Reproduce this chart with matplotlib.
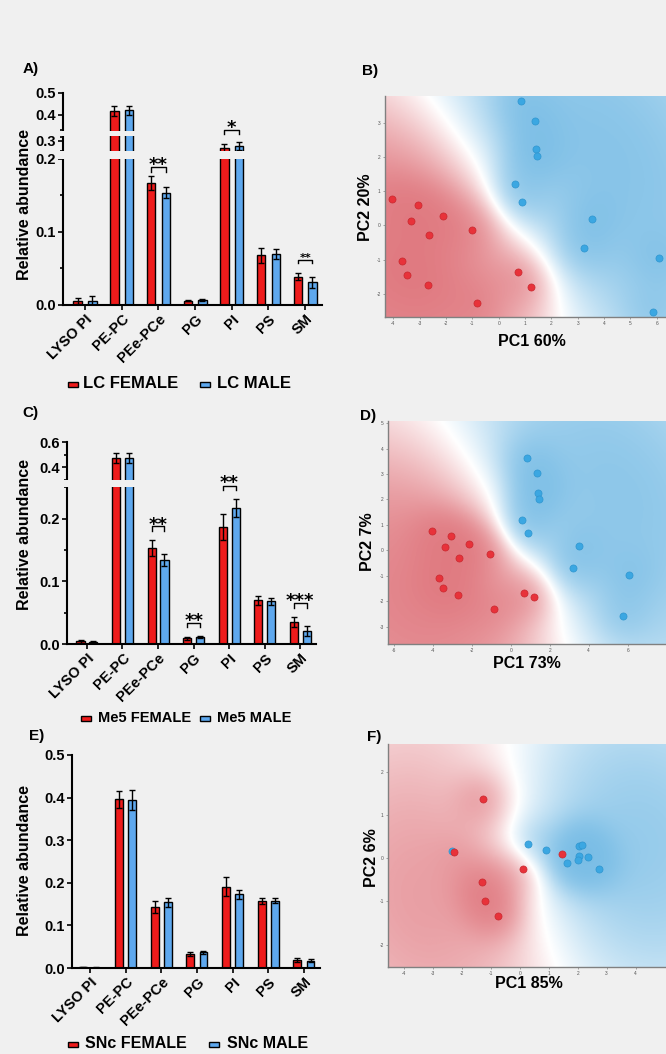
import numpy as np
import matplotlib.pyplot as plt
import matplotlib.transforms as mtransforms
from matplotlib.colors import LinearSegmentedColormap
from matplotlib.patches import Rectangle

plt.rcParams['font.family'] = ['Liberation Sans', 'DejaVu Sans']
plt.rcParams['axes.unicode_minus'] = False

W, H = 666, 1054
BG = '#f0f0f0'
RED = '#ee1b1b'
BLUE = '#5ea8ee'
CMAP = LinearSegmentedColormap.from_list('pca', ['#d23c46', '#ffffff', '#3c9fda'])

lipids = ['LYSO PI', 'PE-PC', 'PEe-PCe', 'PG', 'PI', 'PS', 'SM']

# LC
lc_f = [0.006, 0.417, 0.167, 0.006, 0.264, 0.068, 0.039]
lc_f_err = [0.004, 0.024, 0.010, 0.001, 0.020, 0.010, 0.005]
lc_m = [0.006, 0.420, 0.154, 0.007, 0.277, 0.070, 0.031]
lc_m_err = [0.006, 0.022, 0.007, 0.001, 0.020, 0.007, 0.008]

# Me5
me5_f = [0.004, 0.474, 0.153, 0.009, 0.187, 0.070, 0.035]
me5_f_err = [0.002, 0.040, 0.013, 0.002, 0.021, 0.007, 0.008]
me5_m = [0.003, 0.474, 0.134, 0.011, 0.217, 0.068, 0.021]
me5_m_err = [0.002, 0.040, 0.010, 0.002, 0.014, 0.005, 0.008]

# SNc
snc_f = [0.002, 0.396, 0.143, 0.033, 0.191, 0.158, 0.018]
snc_f_err = [0.001, 0.020, 0.015, 0.004, 0.022, 0.007, 0.005]
snc_m = [0.001, 0.394, 0.154, 0.037, 0.173, 0.158, 0.017]
snc_m_err = [0.001, 0.024, 0.011, 0.004, 0.011, 0.006, 0.004]

# significance: (category, bracket top, leg end, stars, star centre, size)
lc_sig = [(2, 0.1895, 0.1826, '**', 0.199, 13), (4, 0.33, 0.324, '*', 0.3635, 13),
          (6, 0.0616, 0.0571, '**', 0.0685, 8)]
me5_sig = [(2, 0.1888, 0.1797, '**', 0.198, 13), (3, 0.033, 0.0277, '**', 0.0453, 13),
           (4, 0.257, 0.2453, '**', 0.3136, 13), (6, 0.0651, 0.0571, '***', 0.0768, 13)]

# PCA scores
lc_pc1_f = [-4.04, -3.05, -3.33, -2.11, -2.65, -1.03, -3.68, -3.49, -2.70, 0.72, 1.24, -0.84]
lc_pc2_f = [0.76, 0.585, 0.14, 0.27, -0.27, -0.13, -1.05, -1.45, -1.74, -1.37, -1.79, -2.26]
lc_pc1_m = [0.84, 1.38, 1.42, 1.46, 0.62, 0.90, 3.53, 3.24, 6.10, 5.84]
lc_pc2_m = [3.64, 3.05, 2.24, 2.02, 1.22, 0.67, 0.185, -0.66, -0.96, -2.54]

me5_pc1_f = [-4.05, -3.06, -3.37, -2.15, -2.66, -1.05, -3.71, -3.50, -2.72, 0.67, 1.21, -0.87]
me5_pc2_f = [0.745, 0.575, 0.13, 0.26, -0.31, -0.14, -1.07, -1.46, -1.75, -1.66, -1.82, -2.29]
me5_pc1_m = [0.83, 1.36, 1.39, 1.43, 0.59, 0.88, 3.50, 3.21, 6.07, 5.78]
me5_pc2_m = [3.63, 3.03, 2.24, 2.00, 1.20, 0.67, 0.17, -0.68, -0.97, -2.58]

snc_pc1_f = [-1.28, -2.26, 0.10, -1.30, -1.20, -0.76, 1.46]
snc_pc2_f = [1.37, 0.15, -0.25, -0.55, -0.99, -1.33, 0.09]
snc_pc1_m = [-2.34, 0.28, 0.91, 1.64, 2.06, 2.15, 2.04, 2.00, 2.36, 2.72]
snc_pc2_m = [0.17, 0.32, 0.19, -0.12, 0.28, 0.30, 0.04, -0.04, 0.02, -0.25]

fig = plt.figure(figsize=(W / 100, H / 100), dpi=100, facecolor=BG)


def px_box(l, t, r, b):
    return [l / W, 1 - b / H, (r - l) / W, (b - t) / H]


def ftext(x, y, s, **kw):
    fig.text(x / W, 1 - y / H, s, **kw)


def bar_panel(rect, fem, fem_err, mal, mal_err, off, width, xlim, ylim,
              seg=None, gaps=(), major=(), minor=(), sig=()):
    ax = fig.add_axes(px_box(*rect))
    ax.set_facecolor('none')
    if seg is not None:
        v, h = np.array(seg[0]), np.array(seg[1])
        ax.set_yscale('function', functions=(lambda y: np.interp(y, v, h),
                                             lambda y: np.interp(y, h, v)))
    x = np.arange(len(lipids))
    ekw = dict(elinewidth=1, capthick=1)
    ax.bar(x - off, fem, width, yerr=fem_err, color=RED, edgecolor='black', lw=1,
           capsize=2.5, error_kw=ekw, zorder=2)
    ax.bar(x + off, mal, width, yerr=mal_err, color=BLUE, edgecolor='black', lw=1,
           capsize=2.5, error_kw=ekw, zorder=2)
    ax.set_xlim(*xlim)
    ax.set_ylim(*ylim)
    trans = mtransforms.blended_transform_factory(ax.transAxes, ax.transData)
    for g0, g1 in gaps:
        ax.add_patch(Rectangle((-0.02, g0 + 0.001), 1.02, g1 - g0 - 0.002, transform=trans,
                               facecolor=BG, edgecolor='none', clip_on=False, zorder=3))
    for i, top, leg, stars, sy, fs in sig:
        x0, x1 = i - off, i + off
        ax.plot([x0, x0, x1, x1], [leg, top, top, leg], color='black', lw=1, zorder=5,
                clip_on=False)
        ax.annotate(stars, xy=(i, sy), xytext=(0, -0.58 * fs), textcoords='offset points',
                    ha='center', va='baseline', fontsize=fs, fontweight='bold',
                    family='DejaVu Sans', zorder=5, annotation_clip=False)
    ax.set_yticks(major)
    ax.set_yticklabels([f'{m:.1f}' for m in major])
    ax.set_yticks(minor, minor=True)
    ax.set_xticks(x)
    ax.set_xticklabels(lipids, rotation=45, ha='right', rotation_mode='anchor')
    for s in ['top', 'right']:
        ax.spines[s].set_visible(False)
    for s in ['left', 'bottom']:
        ax.spines[s].set_linewidth(1.5)
    ax.tick_params(axis='both', which='major', direction='out', length=3.5, width=1.2,
                   labelsize=10.5, pad=1.5)
    ax.tick_params(axis='y', which='minor', direction='out', length=2.5, width=1.2)
    for lab in ax.get_xticklabels() + ax.get_yticklabels():
        lab.set_fontweight('bold')
    return ax


def pca_panel(rect, fx, fy, mx, my, xlim, ylim, xticks, yticks):
    ax = fig.add_axes(px_box(*rect))
    l, t, r, b = rect
    gx = np.linspace(xlim[0], xlim[1], 300)
    gy = np.linspace(ylim[0], ylim[1], 300)
    X, Y = np.meshgrid(gx, gy)
    sx = (r - l) / (xlim[1] - xlim[0])
    sy = (b - t) / (ylim[1] - ylim[0])

    # class-averaged kernel density, pixel-space distances
    def dens(px, py):
        d = np.zeros_like(X)
        for a, c in zip(px, py):
            r2 = ((X - a) * sx) ** 2 + ((Y - c) * sy) ** 2
            d += 0.5 * np.exp(-r2 / (2 * 20 ** 2)) + 0.5 * np.exp(-r2 / (2 * 110 ** 2))
        return d / len(px)

    z = np.tanh(6.0 * (dens(mx, my) - dens(fx, fy)))
    ax.imshow(z, extent=(xlim[0], xlim[1], ylim[0], ylim[1]), origin='lower', cmap=CMAP,
              vmin=-1.45, vmax=1.45, aspect='auto', interpolation='bilinear', zorder=0)
    ax.scatter(mx, my, s=26, color='#3ba7e2', edgecolor='#2f95cf', lw=0.5, zorder=3)
    ax.scatter(fx, fy, s=26, color='#e8323a', edgecolor='#c8282f', lw=0.5, zorder=3)
    ax.set_xlim(*xlim)
    ax.set_ylim(*ylim)
    ax.set_xticks(xticks)
    ax.set_yticks(yticks)
    for s in ['top', 'right']:
        ax.spines[s].set_visible(False)
    for s in ['left', 'bottom']:
        ax.spines[s].set_color('#808080')
        ax.spines[s].set_linewidth(1.0)
    ax.tick_params(length=1.5, width=0.5, color='#808080', labelsize=3.5,
                   labelcolor='#555555', pad=1.5)
    return ax


# A) LC bars
bar_panel((63, 93, 322, 305), lc_f, lc_f_err, lc_m, lc_m_err, 0.2, 0.23, (-0.6, 6.46), (0, 0.5),
          seg=([0, 0.2, 0.25, 0.32, 0.33, 0.5], [0, 146, 154, 168, 175, 212]),
          gaps=[(0.2, 0.25), (0.32, 0.33)],
          major=[0.0, 0.1, 0.2, 0.3, 0.4, 0.5], minor=[0.05, 0.15, 0.25, 0.32, 0.33],
          sig=lc_sig)

# C) Me5 bars
bar_panel((67, 442, 316, 644), me5_f, me5_f_err, me5_m, me5_m_err, 0.18, 0.23, (-0.56, 6.44),
          (0, 0.6),
          seg=([0, 0.25, 0.3, 0.6], [0, 156.25, 164, 201.5]),
          gaps=[(0.25, 0.3)],
          major=[0.0, 0.1, 0.2, 0.4, 0.6], minor=[0.05, 0.15, 0.25, 0.3, 0.5],
          sig=me5_sig)

# E) SNc bars
bar_panel((72, 755, 320, 968), snc_f, snc_f_err, snc_m, snc_m_err, 0.185, 0.22, (-0.5, 6.45),
          (0, 0.5), major=[0.0, 0.1, 0.2, 0.3, 0.4, 0.5])

# PCA panels
pca_panel((385, 96, 666, 317), lc_pc1_f, lc_pc2_f, lc_pc1_m, lc_pc2_m,
          (-4.32, 6.35), (-2.68, 3.78), range(-4, 7), range(-2, 4))
pca_panel((388, 421, 666, 644), me5_pc1_f, me5_pc2_f, me5_pc1_m, me5_pc2_m,
          (-6.31, 7.97), (-3.67, 5.08), range(-6, 8, 2), range(-3, 6))
pca_panel((388, 744, 666, 967), snc_pc1_f, snc_pc2_f, snc_pc1_m, snc_pc2_m,
          (-4.55, 5.05), (-2.52, 2.64), range(-4, 5), range(-2, 3))

# panel letters and axis titles
for x, y, s in [(23, 69, 'A)'), (362, 71, 'B)'), (22, 413, 'C)'), (360, 416, 'D)'),
                (29, 736, 'E)'), (367, 737, 'F)')]:
    ftext(x, y, s, fontsize=11, fontweight='bold', va='center', ha='left')

for y in [204, 534, 861]:
    ftext(25, y, 'Relative abundance', fontsize=11.5, fontweight='bold', rotation=90,
          ha='center', va='center')

for x, y, s, rot in [(365, 207, 'PC2 20%', 90), (532, 342, 'PC1 60%', 0),
                     (367, 542, 'PC2 7%', 90), (527, 664, 'PC1 73%', 0),
                     (372, 858, 'PC2 6%', 90), (529, 983, 'PC1 85%', 0)]:
    ftext(x, y, s, fontsize=11.5, fontweight='bold', rotation=rot, ha='center', va='center')

# legends
legends = [(384, 68, 83, 'LC FEMALE', 200, 217, 'LC MALE', 12),
           (718, 81, 98, 'Me5 FEMALE', 200, 217, 'Me5 MALE', 10.5),
           (1044, 68, 85, 'SNc FEMALE', 209, 227, 'SNc MALE', 11.5)]
for y, fm, ft, fs, mm, mt, ms, size in legends:
    for mx, tx, col, s in [(fm, ft, RED, fs), (mm, mt, BLUE, ms)]:
        fig.add_artist(Rectangle((mx / W, 1 - (y + 2.5) / H), 10 / W, 5 / H,
                                 transform=fig.transFigure, facecolor=col,
                                 edgecolor='black', lw=1))
        ftext(tx, y, s, fontsize=size, fontweight='bold', va='center', ha='left')

fig.savefig('out.png', dpi=100, facecolor=BG)
